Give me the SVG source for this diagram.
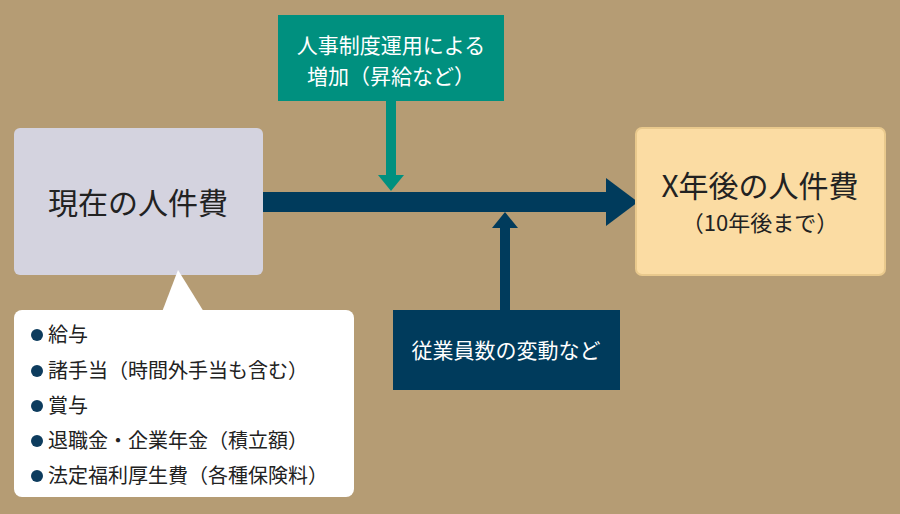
<svg xmlns="http://www.w3.org/2000/svg" width="900" height="514" viewBox="0 0 900 514">
<style>
text{font-family:"Noto Sans CJK JP","Noto Sans",sans-serif}
.w{fill:#fff}
.d{fill:#222}
.b{fill:#0d3c5e}
</style>
<rect width="900" height="514" fill="#b59c74"/>
<g id="connectors">
<rect x="263" y="192" width="345" height="20" fill="#003b5c"/>
<polygon points="606,178 638,202 606,226" fill="#003b5c"/>
<rect x="386" y="101" width="10" height="76" fill="#00907f"/>
<polygon points="378,175 404,175 391,191" fill="#00907f"/>
<rect x="500" y="226" width="10" height="84" fill="#003b5c"/>
<polygon points="492,228 518,228 505,212" fill="#003b5c"/>
</g>
<g id="current">
<rect x="14" y="128" width="249" height="147" rx="6" fill="#d4d3df"/>
<text x="138" y="214" font-size="30" text-anchor="middle" class="d">現在の人件費</text>
</g>
<g id="items">
<rect x="14" y="310" width="340" height="187" rx="8" fill="#fff"/>
<polygon points="162,312 178,270 204,312" fill="#fff"/>
<g font-size="20" class="d">
<circle cx="37" cy="335" r="6" class="b"/><text x="48" y="342">給与</text>
<circle cx="37" cy="371" r="6" class="b"/><text x="48" y="378">諸手当（時間外手当も含む）</text>
<circle cx="37" cy="406" r="6" class="b"/><text x="48" y="413">賞与</text>
<circle cx="37" cy="441" r="6" class="b"/><text x="48" y="448">退職金・企業年金（積立額）</text>
<circle cx="37" cy="476" r="6" class="b"/><text x="48" y="483">法定福利厚生費（各種保険料）</text>
</g>
</g>
<g id="hr">
<rect x="278" y="15" width="226" height="86" fill="#00907f"/>
<text x="391" y="53" font-size="21" text-anchor="middle" class="w">人事制度運用による</text>
<text x="391" y="84" font-size="21" text-anchor="middle" class="w">増加（昇給など）</text>
</g>
<g id="staff">
<rect x="393" y="310" width="227" height="80" fill="#003b5c"/>
<text x="506" y="358" font-size="21" text-anchor="middle" class="w">従業員数の変動など</text>
</g>
<g id="future">
<rect x="636" y="128" width="249" height="147" rx="6" fill="#fbdca3" stroke="#e9c98d" stroke-width="2"/>
<text x="760" y="197" font-size="30" text-anchor="middle" class="d">X年後の人件費</text>
<text x="760" y="231" font-size="22" text-anchor="middle" class="d">（10年後まで）</text>
</g>
</svg>
